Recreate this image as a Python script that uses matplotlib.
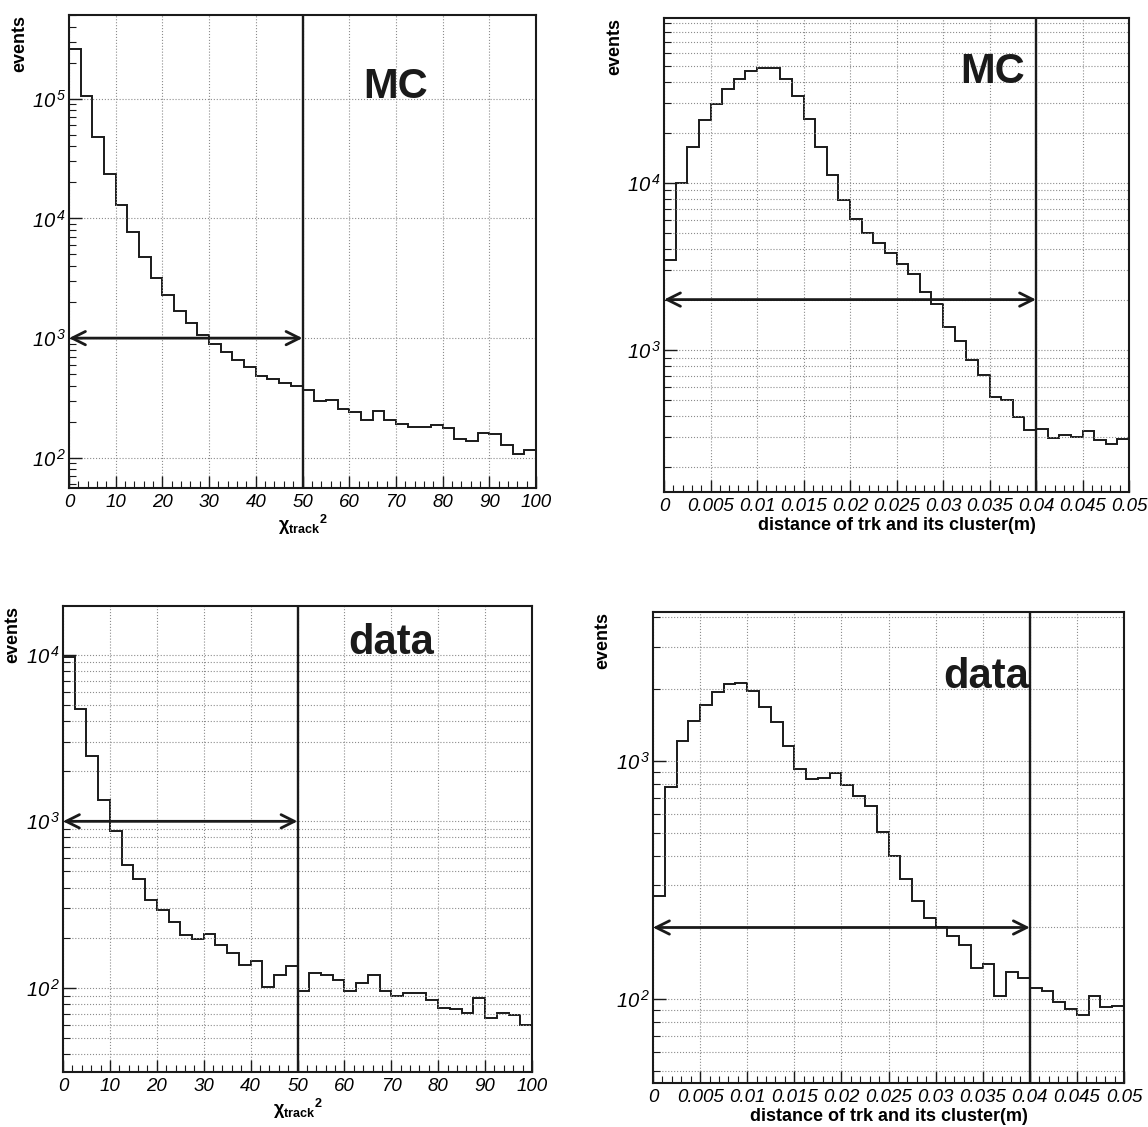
import numpy as np
import matplotlib
matplotlib.use("Agg")
import matplotlib.pyplot as plt
from matplotlib.ticker import FuncFormatter, LogLocator, NullFormatter, MultipleLocator

plt.rcParams["font.family"] = ["Liberation Sans", "DejaVu Sans"]
plt.rcParams["mathtext.fontset"] = "custom"
plt.rcParams["mathtext.rm"] = "Liberation Sans:italic"
plt.rcParams["mathtext.it"] = "Liberation Sans:italic"
plt.rcParams["mathtext.bf"] = "Liberation Sans:bold"

# bin contents (40 bins each)
mc_chi2 = [2.6e5, 1.05e5, 4.8e4, 2.35e4, 1.29e4, 7.7e3, 4.8e3, 3.2e3, 2.3e3, 1.67e3,
           1.35e3, 1.06e3, 890, 765, 660, 570, 485, 455, 420, 400,
           370, 297, 303, 257, 242, 208, 248, 208, 192, 180,
           180, 188, 176, 144, 138, 162, 158, 129, 108, 117]
mc_dist = [3.43e3, 1.0e4, 1.65e4, 2.37e4, 2.97e4, 3.65e4, 4.2e4, 4.7e4, 4.9e4, 4.88e4,
           4.2e4, 3.3e4, 2.4e4, 1.64e4, 1.12e4, 7.9e3, 6.05e3, 5.0e3, 4.36e3, 3.8e3,
           3.27e3, 2.85e3, 2.23e3, 1.87e3, 1.37e3, 1.13e3, 870, 707, 525, 500,
           394, 333, 337, 297, 309, 300, 327, 288, 275, 292]
data_chi2 = [9.7e3, 4.69e3, 2.47e3, 1.34e3, 877, 550, 451, 336, 293, 248,
             208, 196, 211, 180, 163, 137, 145, 102, 119, 135,
             96, 123, 119, 112, 96, 107, 120, 96, 90, 93,
             93, 85, 76, 74.5, 70.5, 87, 65.6, 71, 68.8, 60]
data_dist = [271, 774, 1213, 1466, 1714, 1932, 2100, 2113, 1955, 1674,
             1456, 1154, 927, 841, 847, 885, 788, 713, 643, 501,
             397, 320, 258, 220, 200, 185, 169, 135, 141, 103,
             130, 123, 112, 108, 97, 91, 86, 103, 93, 94]

chi2_range = (0, 100)
dist_range = (0, 0.05)
chi2_cut = 50
dist_cut = 0.04

W, H = 1148, 1127
INK = "#1a1a1a"


def px_axes(fig, left, right, top, bottom):
    return fig.add_axes([left / W, 1 - bottom / H, (right - left) / W, (bottom - top) / H])


def log_fmt(v, pos):
    e = int(round(np.log10(v)))
    return r"$10^{\,%d}$" % e


def draw_panel(ax, vals, xr, cut, arrow_y, ylim, label, label_xy, xlabel,
               major_x, minor_x, xfmt, minor_grid=True):
    edges = np.linspace(xr[0], xr[1], len(vals) + 1)
    ax.set_yscale("log")
    ax.stairs(vals, edges, baseline=None, color=INK, lw=1.4)
    ax.set_xlim(*xr)
    ax.set_ylim(*ylim)
    ax.axvline(cut, color=INK, lw=1.7)
    ax.annotate("", xy=(cut, arrow_y), xytext=(xr[0], arrow_y),
                arrowprops=dict(arrowstyle="<->", lw=2, color=INK,
                                mutation_scale=24, shrinkA=0, shrinkB=0))
    ax.text(label_xy[0], label_xy[1], label, fontsize=30, fontweight="bold",
            ha="center", va="center", color=INK)

    ax.xaxis.set_major_locator(MultipleLocator(major_x))
    ax.xaxis.set_minor_locator(MultipleLocator(minor_x))
    ax.xaxis.set_major_formatter(FuncFormatter(xfmt))
    ax.yaxis.set_major_locator(LogLocator(base=10))
    ax.yaxis.set_minor_locator(LogLocator(base=10, subs=np.arange(2, 10)))
    ax.yaxis.set_major_formatter(FuncFormatter(log_fmt))
    ax.yaxis.set_minor_formatter(NullFormatter())

    ax.tick_params(which="both", direction="in", top=False, right=False, color=INK)
    ax.tick_params(which="major", length=9, width=1)
    ax.tick_params(which="minor", length=5, width=0.8)
    ax.tick_params(axis="x", labelsize=13.5, pad=4)
    ax.tick_params(axis="y", labelsize=14.5, pad=2)
    for lbl in ax.get_xticklabels():
        lbl.set_fontstyle("italic")

    ax.grid(True, which="major", ls=":", color="0.55", lw=0.8)
    if minor_grid:
        ax.yaxis.grid(True, which="minor", ls=":", color="0.55", lw=0.8)
    for s in ax.spines.values():
        s.set_linewidth(1.5)
        s.set_color(INK)

    ax.set_ylabel("events", loc="top", fontsize=13, fontweight="bold")
    ax.yaxis.set_label_coords(-0.088, 1.0)
    ax.set_xlabel(xlabel, fontsize=13, fontweight="bold", labelpad=2)


fig = plt.figure(figsize=(W / 100, H / 100), dpi=100)
fig.patch.set_facecolor("white")

chi_fmt = lambda v, p: "%d" % round(v)
dist_fmt = lambda v, p: "0" if abs(v) < 1e-9 else ("%g" % round(v, 4))
chi_label = "χ" + r"$_{\mathbf{track}}$" + r"$^{\mathbf{2}}$"
dist_label = "distance of trk and its cluster(m)"

ax1 = px_axes(fig, 69, 536, 15, 488)
draw_panel(ax1, mc_chi2, chi2_range, chi2_cut, 1000, (56, 5.0e5), "MC", (70, 1.26e5),
           chi_label, 10, 2, chi_fmt, minor_grid=False)

ax2 = px_axes(fig, 664, 1129, 18, 492)
draw_panel(ax2, mc_dist, dist_range, dist_cut, 2000, (141, 9.7e4), "MC", (0.0353, 4.6e4),
           dist_label, 0.005, 0.001, dist_fmt)

ax3 = px_axes(fig, 63, 532, 606, 1072)
draw_panel(ax3, data_chi2, chi2_range, chi2_cut, 1000, (31.3, 1.96e4), "data", (70, 1.18e4),
           chi_label, 10, 2, chi_fmt)

ax4 = px_axes(fig, 653, 1124, 612, 1083)
draw_panel(ax4, data_dist, dist_range, dist_cut, 200, (44.6, 4.2e3), "data", (0.0354, 2.25e3),
           dist_label, 0.005, 0.001, dist_fmt)

fig.savefig("out.png", dpi=100)
